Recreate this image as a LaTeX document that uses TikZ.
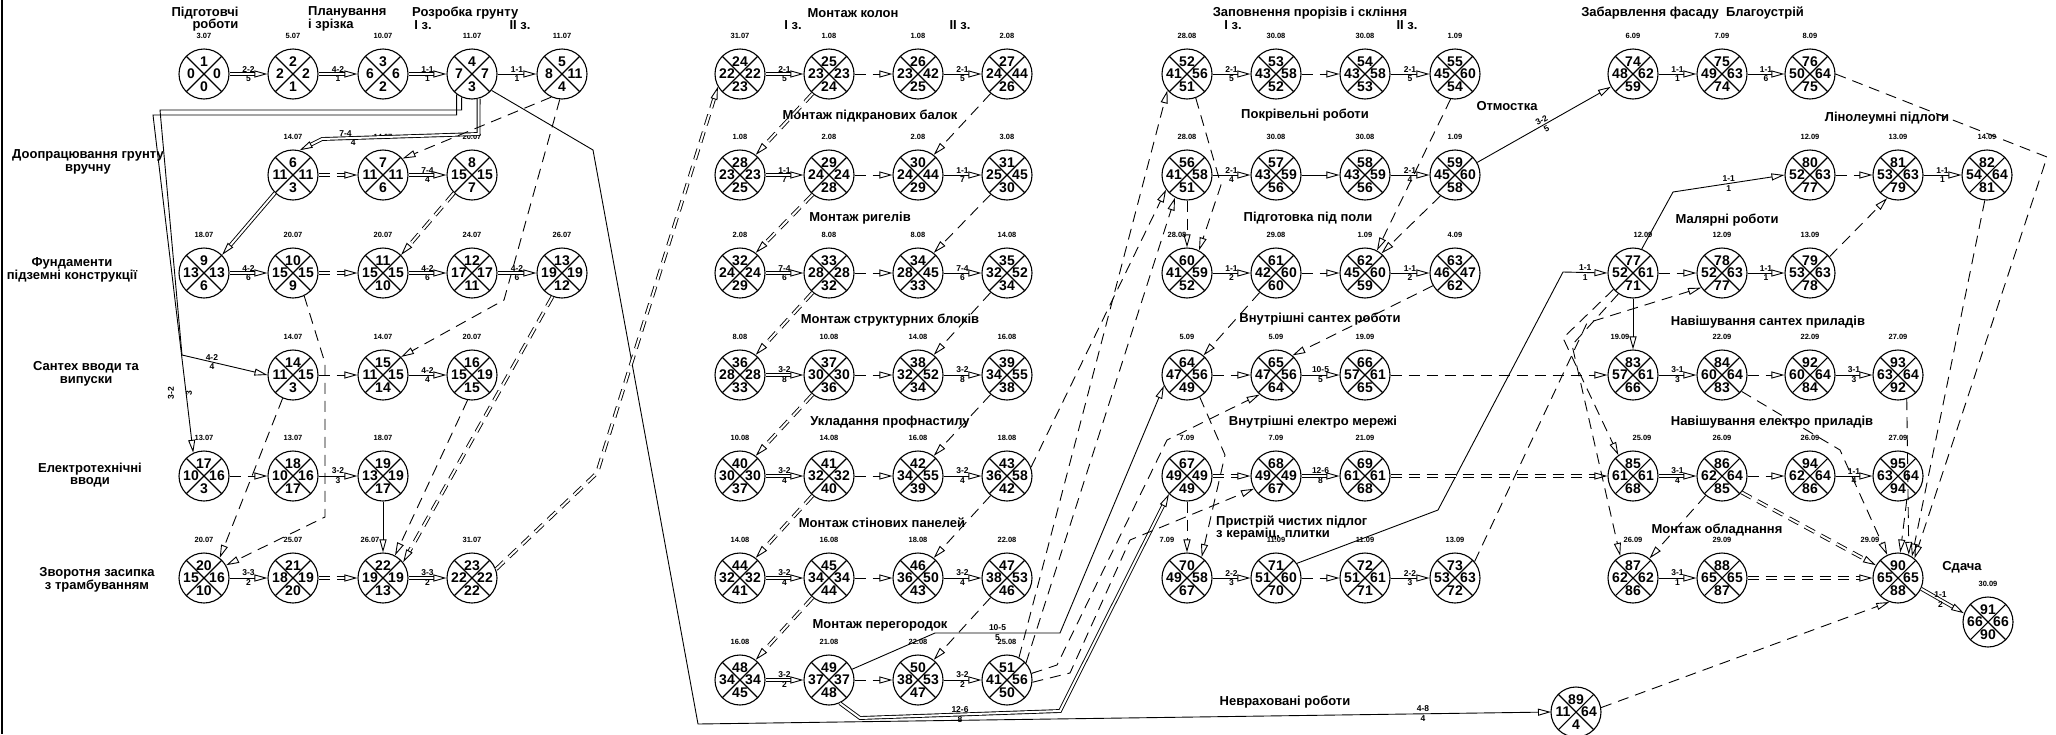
\documentclass[tikz,border=0pt]{standalone}
\usepackage{fontspec}
\setmainfont{Liberation Sans}
\usetikzlibrary{arrows.meta}

\tikzset{
  event/.style={circle, draw, line width=1.1pt, minimum size=50pt, inner sep=0pt, fill=white,
    path picture={\draw[line width=1.1pt] (path picture bounding box.north west) -- (path picture bounding box.south east)
      (path picture bounding box.north east) -- (path picture bounding box.south west);}},
  num/.style={font=\fontsize{14}{14}\selectfont\bfseries, inner sep=0pt},
  date/.style={font=\fontsize{7.5}{8}\selectfont\bfseries, inner sep=0pt},
  lab/.style={font=\fontsize{8.5}{9}\selectfont\bfseries, inner sep=1.5pt},
  lbup/.style={lab, above},
  lbdn/.style={lab, below},
  title/.style={font=\fontsize{13}{12.5}\selectfont\bfseries, inner sep=0pt, align=center},
  arrow/.style={line width=0.9pt, -{Triangle[open, length=13pt, width=7pt, line width=0.9pt]}},
  crit/.style={arrow, double, double distance=2pt},
  dep/.style={arrow, dash pattern=on 11pt off 7pt},
  critdep/.style={crit, dash pattern=on 11pt off 7pt}
}

% event: [date shift]{name}{position}{top}{left}{right}{bottom}{date}
\newcommand{\ev}[8][0]{%
  \node[event] (#2) at #3 {};
  \node[num] (#2t) at ([yshift=12.5pt]#2.center) {#4};
  \node[num] (#2l) at ([xshift=-13pt]#2.center) {#5};
  \node[num] (#2r) at ([xshift=13pt]#2.center) {#6};
  \node[num] (#2b) at ([yshift=-12.5pt]#2.center) {#7};
  \node[date] (#2d) at ([xshift=#1pt, yshift=38pt]#2.center) {#8};
}

\begin{document}
\begin{tikzpicture}[x=1pt, y=-1pt]
\useasboundingbox (0,0) rectangle (2056,734);
\draw[line width=2pt] (2,0) -- (2,734);

% Earth works, foundations
\node[title, align=right] (t1) at (205,19) {Підготовчі\\роботи};
\node[title, align=left, anchor=west] (t2) at (308,19) {Планування\\і зрізка};
\node[title, anchor=west] (t3) at (412,13) {Розробка грунту};
\node[title] (t3a) at (423,25) {I з.};
\node[title] (t3b) at (520,25) {II з.};
\node[title] (t4) at (88,162) {Доопрацювання грунту\\вручну};
\node[title] (t5) at (72,270) {Фундаменти\\підземні конструкції};
\node[title] (t6) at (86,374) {Сантех вводи та\\випуски};
\node[title] (t7) at (90,475) {Електротехнічні\\вводи};
\node[title] (t8) at (97,580) {Зворотня засипка\\з трамбуванням};

\ev{n1}{(204,74)}{1}{0}{0}{0}{3.07}
\ev{n2}{(293,74)}{2}{2}{2}{1}{5.07}
\ev{n3}{(383,74)}{3}{6}{6}{2}{10.07}
\ev{n4}{(472,74)}{4}{7}{7}{3}{11.07}
\ev{n5}{(562,74)}{5}{8}{11}{4}{11.07}
\ev{n6}{(293,175)}{6}{11}{11}{3}{14.07}
\ev{n7}{(383,175)}{7}{11}{11}{6}{14.07}
\ev{n8}{(472,175)}{8}{15}{15}{7}{20.07}
\ev{n9}{(204,273)}{9}{13}{13}{6}{18.07}
\ev{n10}{(293,273)}{10}{15}{15}{9}{20.07}
\ev{n11}{(383,273)}{11}{15}{15}{10}{20.07}
\ev{n12}{(472,273)}{12}{17}{17}{11}{24.07}
\ev{n13}{(562,273)}{13}{19}{19}{12}{26.07}
\ev{n14}{(293,375)}{14}{11}{15}{3}{14.07}
\ev{n15}{(383,375)}{15}{11}{15}{14}{14.07}
\ev{n16}{(472,375)}{16}{15}{19}{15}{20.07}
\ev{n17}{(204,476)}{17}{10}{16}{3}{13.07}
\ev{n18}{(293,476)}{18}{10}{16}{17}{13.07}
\ev{n19}{(383,476)}{19}{13}{19}{17}{18.07}
\ev{n20}{(204,578)}{20}{15}{16}{10}{20.07}
\ev{n21}{(293,578)}{21}{18}{19}{20}{25.07}
\ev[-13]{n22}{(383,578)}{22}{19}{19}{13}{26.07}
\ev{n23}{(472,578)}{23}{22}{22}{22}{31.07}

\draw[crit] (n1) -- node[lbup]{2-2} node[lbdn]{5} (n2);
\draw[crit] (n2) -- node[lbup]{4-2} node[lbdn]{1} (n3);
\draw[crit] (n3) -- node[lbup]{1-1} node[lbdn]{1} (n4);
\draw[arrow] (n4) -- node[lbup]{1-1} node[lbdn]{1} (n5);
\draw[crit] (n4.-75) -- (478.5,134) -- node[lbup, pos=.85]{7-4} node[lbdn, pos=.8]{4} (322,139) -- (n6.75);
\draw[arrow] (n4.-114) |- (160,110) -- (182,355) -- node[lbup, pos=.35]{4-2} node[lbdn, pos=.35]{4} (n14.west);
\draw[arrow] (n4.-127) |- (153,115) -- (n17.115);
\node[lab, rotate=90] (l17a) at (171,393) {3-2};
\node[lab, rotate=90] (l17b) at (189,393) {3};
\draw[arrow] (n4.-40) -- (593,150) -- (698,724) -- node[lbup, pos=.85]{4-8} node[lbdn, pos=.85]{4} (1551,712);
\draw[dep] (n5.-115) -- (n7.40);
\draw[dep] (n5.-95) -- (504,300) -- (n15.45);
\draw[critdep] (n6) -- (n7);
\draw[crit] (n7) -- node[lbup]{7-4} node[lbdn]{4} (n8);
\draw[crit] (n6.-135) -- (n9.45);
\draw[critdep] (n8.-135) -- (n11.45);
\draw[crit] (n9) -- node[lbup]{4-2} node[lbdn]{6} (n10);
\draw[critdep] (n10) -- (n11);
\draw[crit] (n11) -- node[lbup]{4-2} node[lbdn]{6} (n12);
\draw[crit] (n12) -- node[lbup]{4-2} node[lbdn]{6} (n13);
\draw[dep] (n10.-64) -- (325,363) -- (325,517) -- (n20.30);
\draw[dep] (n14) -- (n15);
\draw[arrow] (n15) -- node[lbup]{4-2} node[lbdn]{4} (n16);
\draw[dep] (n14.-114) -- (n20.52);
\draw[dep] (n16.-100) -- (n22.62);
\draw[critdep] (n13.-112) -- (n22.38);
\draw[arrow] (n19) -- (n22);
\draw[dep] (n17) -- (n18);
\draw[arrow] (n18) -- node[lbup]{3-2} node[lbdn]{3} (n19);
\draw[arrow] (n20) -- node[lbup]{3-3} node[lbdn]{2} (n21);
\draw[critdep] (n21) -- (n22);
\draw[crit] (n22) -- node[lbup]{3-3} node[lbdn]{2} (n23);

% Frame erection
\node[title] (t9) at (853,13) {Монтаж колон};
\node[title] (t9a) at (793,25) {I з.};
\node[title] (t9b) at (960,25) {II з.};
\node[title] (t10) at (870,116) {Монтаж підкранових балок};
\node[title] (t11) at (860,218) {Монтаж ригелів};
\node[title] (t12) at (890,320) {Монтаж структурних блоків};
\node[title] (t13) at (890,422) {Укладання профнастилу};
\node[title] (t14) at (882,523) {Монтаж стінових панелей};
\node[title] (t15) at (880,625) {Монтаж перегородок};

\ev{n24}{(740,74)}{24}{22}{22}{23}{31.07}
\ev{n25}{(829,74)}{25}{23}{23}{24}{1.08}
\ev{n26}{(918,74)}{26}{23}{42}{25}{1.08}
\ev{n27}{(1007,74)}{27}{24}{44}{26}{2.08}
\ev{n28}{(740,175)}{28}{23}{23}{25}{1.08}
\ev{n29}{(829,175)}{29}{24}{24}{28}{2.08}
\ev{n30}{(918,175)}{30}{24}{44}{29}{2.08}
\ev{n31}{(1007,175)}{31}{25}{45}{30}{3.08}
\ev{n32}{(740,273)}{32}{24}{24}{29}{2.08}
\ev{n33}{(829,273)}{33}{28}{28}{32}{8.08}
\ev{n34}{(918,273)}{34}{28}{45}{33}{8.08}
\ev{n35}{(1007,273)}{35}{32}{52}{34}{14.08}
\ev{n36}{(740,375)}{36}{28}{28}{33}{8.08}
\ev{n37}{(829,375)}{37}{30}{30}{36}{10.08}
\ev{n38}{(918,375)}{38}{32}{52}{34}{14.08}
\ev{n39}{(1007,375)}{39}{34}{55}{38}{16.08}
\ev{n40}{(740,476)}{40}{30}{30}{37}{10.08}
\ev{n41}{(829,476)}{41}{32}{32}{40}{14.08}
\ev{n42}{(918,476)}{42}{34}{55}{39}{16.08}
\ev{n43}{(1007,476)}{43}{36}{58}{42}{18.08}
\ev{n44}{(740,578)}{44}{32}{32}{41}{14.08}
\ev{n45}{(829,578)}{45}{34}{34}{44}{16.08}
\ev{n46}{(918,578)}{46}{36}{50}{43}{18.08}
\ev{n47}{(1007,578)}{47}{38}{53}{46}{22.08}
\ev{n48}{(740,680)}{48}{34}{34}{45}{16.08}
\ev{n49}{(829,680)}{49}{37}{37}{48}{21.08}
\ev{n50}{(918,680)}{50}{38}{53}{47}{22.08}
\ev{n51}{(1007,680)}{51}{41}{56}{50}{25.08}

\draw[critdep] (n23.20) -- (597,473) -- (n24.-150);
\draw[crit] (n24) -- node[lbup]{2-1} node[lbdn]{5} (n25);
\draw[dep] (n25) -- (n26);
\draw[arrow] (n26) -- node[lbup]{2-1} node[lbdn]{5} (n27);
\draw[crit] (n28) -- node[lbup]{1-1} node[lbdn]{7} (n29);
\draw[dep] (n29) -- (n30);
\draw[arrow] (n30) -- node[lbup]{1-1} node[lbdn]{7} (n31);
\draw[crit] (n32) -- node[lbup]{7-4} node[lbdn]{6} (n33);
\draw[dep] (n33) -- (n34);
\draw[arrow] (n34) -- node[lbup]{7-4} node[lbdn]{6} (n35);
\draw[crit] (n36) -- node[lbup]{3-2} node[lbdn]{8} (n37);
\draw[dep] (n37) -- (n38);
\draw[arrow] (n38) -- node[lbup]{3-2} node[lbdn]{8} (n39);
\draw[crit] (n40) -- node[lbup]{3-2} node[lbdn]{4} (n41);
\draw[dep] (n41) -- (n42);
\draw[arrow] (n42) -- node[lbup]{3-2} node[lbdn]{4} (n43);
\draw[crit] (n44) -- node[lbup]{3-2} node[lbdn]{4} (n45);
\draw[dep] (n45) -- (n46);
\draw[arrow] (n46) -- node[lbup]{3-2} node[lbdn]{4} (n47);
\draw[crit] (n48) -- node[lbup]{3-2} node[lbdn]{2} (n49);
\draw[dep] (n49) -- (n50);
\draw[arrow] (n50) -- node[lbup]{3-2} node[lbdn]{2} (n51);
\draw[critdep] (n25.-130) -- (n28.52);
\draw[critdep] (n29.-130) -- (n32.52);
\draw[critdep] (n33.-130) -- (n36.52);
\draw[critdep] (n37.-130) -- (n40.52);
\draw[critdep] (n41.-130) -- (n44.52);
\draw[critdep] (n45.-130) -- (n48.52);
\draw[dep] (n27.-130) -- (n30.52);
\draw[dep] (n31.-130) -- (n34.52);
\draw[dep] (n35.-130) -- (n38.52);
\draw[dep] (n39.-130) -- (n42.52);
\draw[dep] (n43.-130) -- (n46.52);
\draw[dep] (n47.-130) -- (n50.52);

% Envelope, roof, interior
\node[title] (t16) at (1310,13) {Заповнення прорізів і скління};
\node[title] (t16a) at (1233,25) {I з.};
\node[title] (t16b) at (1407,25) {II з.};
\node[title] (t17) at (1305,115) {Покрівельні роботи};
\node[title] (t18) at (1308,218) {Підготовка під поли};
\node[title] (t19) at (1320,319) {Внутрішні сантех роботи};
\node[title] (t20) at (1313,422) {Внутрішні електро мережі};
\node[title, align=left, anchor=west] (t21) at (1216,528) {Пристрій чистих підлог\\з кераміц. плитки};
\node[title] (t22) at (1285,702) {Невраховані роботи};
\node[title] (t23) at (1507,106) {Отмостка};

\ev{n52}{(1187,74)}{52}{41}{56}{51}{28.08}
\ev{n53}{(1276,74)}{53}{43}{58}{52}{30.08}
\ev{n54}{(1365,74)}{54}{43}{58}{53}{30.08}
\ev{n55}{(1455,74)}{55}{45}{60}{54}{1.09}
\ev{n56}{(1187,175)}{56}{41}{58}{51}{28.08}
\ev{n57}{(1276,175)}{57}{43}{59}{56}{30.08}
\ev{n58}{(1365,175)}{58}{43}{59}{56}{30.08}
\ev{n59}{(1455,175)}{59}{45}{60}{58}{1.09}
\ev[-10]{n60}{(1187,273)}{60}{41}{59}{52}{28.08}
\ev{n61}{(1276,273)}{61}{42}{60}{60}{29.08}
\ev{n62}{(1365,273)}{62}{45}{60}{59}{1.09}
\ev{n63}{(1455,273)}{63}{46}{47}{62}{4.09}
\ev{n64}{(1187,375)}{64}{47}{56}{49}{5.09}
\ev{n65}{(1276,375)}{65}{47}{56}{64}{5.09}
\ev{n66}{(1365,375)}{66}{57}{61}{65}{19.09}
\ev{n67}{(1187,476)}{67}{49}{49}{49}{7.09}
\ev{n68}{(1276,476)}{68}{49}{49}{67}{7.09}
\ev{n69}{(1365,476)}{69}{61}{61}{68}{21.09}
\ev[-20]{n70}{(1187,578)}{70}{49}{58}{67}{7.09}
\ev{n71}{(1276,578)}{71}{51}{60}{70}{11.09}
\ev{n72}{(1365,578)}{72}{51}{61}{71}{11.09}
\ev{n73}{(1455,578)}{73}{53}{63}{72}{13.09}

\draw[arrow] (n49.25) -- (935,633) -- node[lbup]{10-5} node[lbdn]{5} (1060,633) -- (n64.-155);
\draw[crit] (n49.-65) -- (860,718) -- node[lbup]{12-6} node[lbdn]{8} (1060,711) -- (n67.-135);
\draw[dep] (n51.62) -- (n52.-140);
\draw[dep] (n51.42) -- (n56.-118);
\draw[dep] (n43.20) -- (n56.-145);
\draw[dep] (n51.15) -- (1057,665) -- (1167,440) -- (n65.-130);
\draw[dep] (n51.-5) -- (1070,673) -- (1130,540) -- (n68.-150);
\draw[arrow] (n52) -- node[lbup]{2-1} node[lbdn]{5} (n53);
\draw[dep] (n53) -- (n54);
\draw[arrow] (n54) -- node[lbup]{2-1} node[lbdn]{5} (n55);
\draw[arrow] (n56) -- node[lbup]{2-1} node[lbdn]{4} (n57);
\draw[arrow] (n57) -- (n58);
\draw[arrow] (n58) -- node[lbup]{2-1} node[lbdn]{4} (n59);
\draw[dep] (n52.-70) -- (1221,185) -- (n60.62);
\draw[dep] (n56) -- (n60);
\draw[dep] (n55.-100) -- (n62.62);
\draw[dep] (n59.-125) -- (n62.50);
\draw[arrow] (n60) -- node[lbup]{1-1} node[lbdn]{2} (n61);
\draw[dep] (n61) -- (n62);
\draw[arrow] (n62) -- node[lbup]{1-1} node[lbdn]{2} (n63);
\draw[dep] (n61.-130) -- (n64.50);
\draw[dep] (n63.-150) -- (n65.50);
\draw[dep] (n64) -- (n65);
\draw[arrow] (n65) -- node[lbup]{10-5} node[lbdn]{5} (n66);
\draw[dep] (n64.-60) -- (1225,455) -- (n70.55);
\draw[critdep] (n67) -- (n68);
\draw[crit] (n68) -- node[lbup]{12-6} node[lbdn]{8} (n69);
\draw[dep] (n67) -- (n70);
\draw[arrow] (n70) -- node[lbup]{2-2} node[lbdn]{3} (n71);
\draw[dep] (n71) -- (n72);
\draw[arrow] (n72) -- node[lbup]{2-2} node[lbdn]{3} (n73);

% Finishing and handover
\node[title] (t24) at (1650,13) {Забарвлення фасаду};
\node[title] (t25) at (1765,13) {Благоустрій};
\node[title] (t26) at (1887,118) {Лінолеумні підлоги};
\node[title] (t27) at (1727,220) {Малярні роботи};
\node[title] (t28) at (1768,322) {Навішування сантех приладів};
\node[title] (t29) at (1772,422) {Навішування електро приладів};
\node[title] (t30) at (1717,530) {Монтаж обладнання};
\node[title] (t31) at (1962,567) {Сдача};

\ev{n74}{(1633,74)}{74}{48}{62}{59}{6.09}
\ev{n75}{(1722,74)}{75}{49}{63}{74}{7.09}
\ev{n76}{(1810,74)}{76}{50}{64}{75}{8.09}
\ev{n80}{(1810,175)}{80}{52}{63}{77}{12.09}
\ev{n81}{(1898,175)}{81}{53}{63}{79}{13.09}
\ev{n82}{(1987,175)}{82}{54}{64}{81}{14.09}
\ev[10]{n77}{(1633,273)}{77}{52}{61}{71}{12.09}
\ev{n78}{(1722,273)}{78}{52}{63}{77}{12.09}
\ev{n79}{(1810,273)}{79}{53}{63}{78}{13.09}
\ev[-13]{n83}{(1633,375)}{83}{57}{61}{66}{19.09}
\ev{n84}{(1722,375)}{84}{60}{64}{83}{22.09}
\ev{n92}{(1810,375)}{92}{60}{64}{84}{22.09}
\ev{n93}{(1898,375)}{93}{63}{64}{92}{27.09}
\ev[9]{n85}{(1633,476)}{85}{61}{61}{68}{25.09}
\ev{n86}{(1722,476)}{86}{62}{64}{85}{26.09}
\ev{n94}{(1810,476)}{94}{62}{64}{86}{26.09}
\ev{n95}{(1898,476)}{95}{63}{64}{94}{27.09}
\ev{n87}{(1633,578)}{87}{62}{62}{86}{26.09}
\ev{n88}{(1722,578)}{88}{65}{65}{87}{29.09}
\ev[-28]{n90}{(1898,578)}{90}{65}{65}{88}{29.09}
\ev{n91}{(1988,622)}{91}{66}{66}{90}{30.09}
\ev{n89}{(1576,712)}{89}{11}{64}{4}{}

\draw[arrow] (n59) -- node[lab, sloped, above]{3-2} node[lab, sloped, below]{5} (n74.-150);
\draw[arrow] (n74) -- node[lbup]{1-1} node[lbdn]{1} (n75);
\draw[arrow] (n75) -- node[lbup]{1-1} node[lbdn]{6} (n76);
\draw[arrow] (n71.35) -- (1438,510) -- (1563,272) -- node[lbup]{1-1} node[lbdn]{1} (n77.west);
\draw[arrow] (n77.70) -- (1673,192) -- node[lbup]{1-1} node[lbdn]{1} (n80.west);
\draw[dep] (n80) -- (n81);
\draw[arrow] (n81) -- node[lbup]{1-1} node[lbdn]{1} (n82);
\draw[dep] (n79.40) -- (n81.-115);
\draw[dep] (n77) -- (n78);
\draw[arrow] (n78) -- node[lbup]{1-1} node[lbdn]{1} (n79);
\draw[dep] (n73.40) -- (1587,323) -- (n78.-145);
\draw[arrow] (n77) -- (n83);
\draw[dep] (n77.-140) -- (1563,338) -- (n85.125);
\draw[dep] (n77.-125) -- (1572,345) -- (n87.120);
\draw[dep] (n66) -- (n83);
\draw[critdep] (n69) -- (n85);
\draw[arrow] (n83) -- node[lbup]{3-1} node[lbdn]{3} (n84);
\draw[dep] (n84) -- (n92);
\draw[arrow] (n92) -- node[lbup]{3-1} node[lbdn]{3} (n93);
\draw[dep] (n84.-40) -- (1840,450) -- (n90.115);
\draw[crit] (n85) -- node[lbup]{3-1} node[lbdn]{4} (n86);
\draw[dep] (n86) -- (n94);
\draw[arrow] (n94) -- node[lbup]{1-1} node[lbdn]{4} (n95);
\draw[dep] (n86.-130) -- (n87.50);
\draw[critdep] (n86.-40) -- (n90.150);
\draw[arrow] (n87) -- node[lbup]{3-1} node[lbdn]{1} (n88);
\draw[critdep] (n88) -- (n90);
\draw[dep] (n95.-70) -- (n90.85);
\draw[dep] (n93.-70) -- (n90.65);
\draw[dep] (n82.-95) -- (n90.57);
\draw[dep] (n76.east) -- (2047,157) -- (n90.50);
\draw[crit] (n90.-25) -- node[lbup, pos=.45]{1-1} node[lbdn, pos=.45]{2} (n91.160);
\draw[dep] (n89.10) -- (n90.-110);
\end{tikzpicture}
\end{document}
